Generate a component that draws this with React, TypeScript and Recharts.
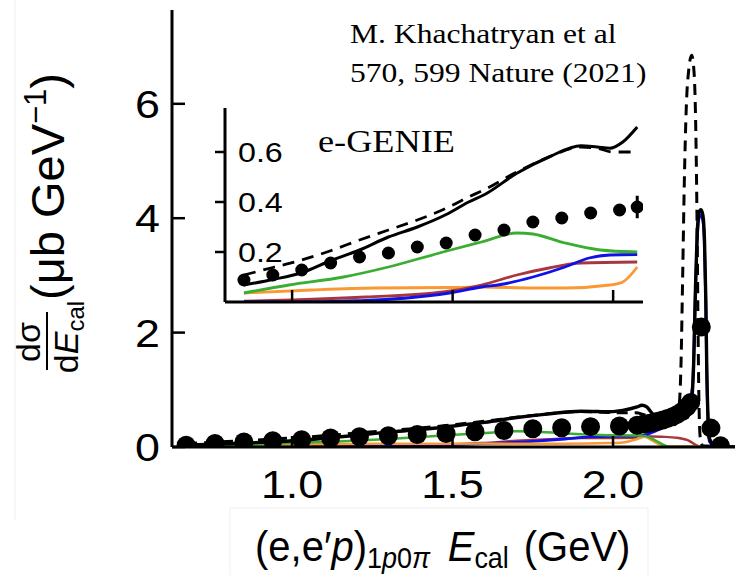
import React from 'react';
import { ComposedChart, Line, Scatter, XAxis, YAxis, ErrorBar } from 'recharts';

// ---------- data ----------
const xTicks = [1.0, 1.5, 2.0];
const yTicks = [0, 2, 4, 6];
const insetYTicks = [0.2, 0.4, 0.6];

// measured data points (e,e'p) 1p0pi
const dataX = [0.67, 0.76, 0.85, 0.94, 1.03, 1.12, 1.21, 1.30, 1.39, 1.48, 1.57, 1.66, 1.75, 1.84, 1.93, 2.02, 2.075, 2.095, 2.11, 2.125, 2.14, 2.155, 2.17, 2.185, 2.2, 2.215, 2.23, 2.242, 2.275, 2.305, 2.335];
const dataY = [0.03, 0.06, 0.088, 0.108, 0.128, 0.156, 0.18, 0.196, 0.22, 0.236, 0.268, 0.288, 0.32, 0.336, 0.356, 0.368, 0.38, 0.40, 0.41, 0.43, 0.45, 0.47, 0.50, 0.53, 0.57, 0.62, 0.70, 0.78, 2.1, 0.33, 0.02];
const dataErr = [0, 0, 0, 0, 0, 0, 0, 0, 0, 0, 0, 0, 0, 0, 0, 0, 0.045, 0, 0, 0, 0, 0, 0, 0, 0, 0, 0, 0, 0, 0, 0];

// GENIE total (solid)
const totX = [0.67, 0.76, 0.85, 0.94, 1.03, 1.12, 1.21, 1.30, 1.39, 1.48, 1.55, 1.60, 1.70, 1.80, 1.90, 1.95, 1.99, 2.03, 2.075, 2.09, 2.105, 2.12, 2.14, 2.17, 2.20, 2.225, 2.245, 2.252, 2.257, 2.262, 2.268, 2.274, 2.28, 2.285, 2.289, 2.292, 2.296, 2.30, 2.32, 2.38];
const totY = [0.035, 0.05, 0.068, 0.09, 0.117, 0.165, 0.208, 0.26, 0.30, 0.35, 0.40, 0.43, 0.515, 0.58, 0.625, 0.62, 0.615, 0.64, 0.70, 0.73, 0.70, 0.6, 0.5, 0.48, 0.55, 0.65, 0.85, 1.6, 2.8, 3.7, 4.1, 4.15, 4.05, 3.6, 2.6, 1.4, 0.5, 0.15, 0.02, 0];

// GENIE alternative (dashed)
const dashX = [0.67, 0.76, 0.85, 0.94, 1.03, 1.12, 1.21, 1.30, 1.39, 1.48, 1.55, 1.60, 1.70, 1.80, 1.90, 1.95, 2.00, 2.07, 2.10, 2.14, 2.18, 2.205, 2.212, 2.217, 2.222, 2.228, 2.236, 2.245, 2.253, 2.258, 2.262, 2.265, 2.268, 2.272, 2.28, 2.38];
const dashY = [0.06, 0.085, 0.108, 0.138, 0.168, 0.205, 0.248, 0.288, 0.328, 0.375, 0.42, 0.45, 0.52, 0.58, 0.62, 0.615, 0.60, 0.60, 0.56, 0.5, 0.52, 0.7, 1.5, 3.0, 4.6, 5.9, 6.6, 6.85, 6.5, 5.5, 3.8, 2.0, 0.7, 0.15, 0.02, 0];

// components
const greenX = [0.67, 0.76, 0.85, 0.99, 1.16, 1.30, 1.47, 1.59, 1.70, 1.75, 1.85, 1.96, 2.075, 2.10, 2.13, 2.16, 2.18, 2.38];
const greenY = [0.012, 0.022, 0.036, 0.068, 0.10, 0.14, 0.20, 0.24, 0.276, 0.272, 0.236, 0.208, 0.20, 0.19, 0.12, 0.03, 0, 0];

const blueX = [0.67, 0.85, 1.0, 1.2, 1.35, 1.49, 1.59, 1.65, 1.75, 1.85, 1.925, 1.99, 2.075, 2.12, 2.16, 2.2, 2.23, 2.248, 2.256, 2.262, 2.268, 2.274, 2.28, 2.285, 2.289, 2.292, 2.296, 2.30, 2.32, 2.38];
const blueY = [0, 0, 0, 0.005, 0.015, 0.036, 0.06, 0.07, 0.10, 0.14, 0.176, 0.188, 0.19, 0.25, 0.35, 0.45, 0.6, 1.1, 2.6, 3.6, 4.0, 4.05, 3.95, 3.5, 2.5, 1.3, 0.45, 0.1, 0, 0];

const brownX = [0.67, 0.85, 1.0, 1.23, 1.47, 1.59, 1.70, 1.80, 1.90, 2.075, 2.10, 2.15, 2.20, 2.24, 2.26, 2.28, 2.38];
const brownY = [0, 0.003, 0.008, 0.02, 0.04, 0.068, 0.108, 0.136, 0.156, 0.16, 0.19, 0.18, 0.16, 0.1, 0.03, 0, 0];

const orangeX = [0.67, 0.76, 0.85, 1.06, 1.26, 1.49, 1.59, 1.75, 1.85, 1.99, 2.03, 2.075, 2.10, 2.12, 2.15, 2.17, 2.38];
const orangeY = [0.02, 0.03, 0.036, 0.048, 0.056, 0.058, 0.06, 0.056, 0.056, 0.068, 0.08, 0.14, 0.18, 0.12, 0.03, 0.01, 0.01];

// ---------- helpers ----------
type P = { x: number; y: number; err: number };
const zip = (xs: number[], ys: number[], es?: number[]): P[] =>
  xs.map((x, i) => ({ x, y: ys[i], err: es ? es[i] : 0 }));

const points = zip(dataX, dataY, dataErr);
const total = zip(totX, totY);
const dashed = zip(dashX, dashY);
const green = zip(greenX, greenY);
const blue = zip(blueX, blueY);
const brown = zip(brownX, brownY);
const orange = zip(orangeX, orangeY);

const INSET_MIN = 0.845;
const INSET_MAX = 2.08;
const inset = (arr: P[]) => arr.filter((p) => p.x >= INSET_MIN && p.x <= INSET_MAX);

const SX = 1.15;
const SANS = '"Liberation Sans", Arial, Helvetica, sans-serif';
const SERIF = '"Liberation Serif", "Times New Roman", serif';

const C_GREEN = '#3aad33';
const C_BLUE = '#1010e8';
const C_BROWN = '#a8373d';
const C_ORANGE = '#fa9832';

const fmt1 = (v: number) => v.toFixed(1);

const MainXTick = (props: any) => {
  const { x, y, payload } = props;
  return (
    <g>
      <line x1={x} y1={y} x2={x} y2={y - 11} stroke="#000" strokeWidth={2.5} />
      <g transform={`translate(${x},${y + 51}) scale(${SX},1)`}>
        <text x={0} y={0} textAnchor="middle" fontFamily={SANS} fontSize={39} fill="#000">
          {fmt1(payload.value)}
        </text>
      </g>
    </g>
  );
};

const MainYTick = (props: any) => {
  const { x, y, payload } = props;
  return (
    <g>
      <line x1={x} y1={y} x2={x + 13} y2={y} stroke="#000" strokeWidth={2.5} />
      <g transform={`translate(${x - 12},${y + 14}) scale(${SX},1)`}>
        <text x={0} y={0} textAnchor="end" fontFamily={SANS} fontSize={39} fill="#000">
          {String(payload.value)}
        </text>
      </g>
    </g>
  );
};

const InsetXTick = (props: any) => {
  const { x, y } = props;
  return <line x1={x} y1={y} x2={x} y2={y - 12} stroke="#000" strokeWidth={2.5} />;
};

const InsetYTick = (props: any) => {
  const { x, y, payload } = props;
  return (
    <g>
      <line x1={x - 10} y1={y} x2={x} y2={y} stroke="#000" strokeWidth={2.5} />
      <g transform={`translate(${x + 13},${y + 10}) scale(${SX},1)`}>
        <text x={0} y={0} textAnchor="start" fontFamily={SANS} fontSize={28} fill="#000">
          {fmt1(payload.value)}
        </text>
      </g>
    </g>
  );
};

const bigDot = (props: any) => <circle cx={props.cx} cy={props.cy} r={9.5} fill="#000" />;
const smallDot = (props: any) => <circle cx={props.cx} cy={props.cy} r={6.5} fill="#000" />;

const lineCommon = {
  type: 'monotone' as const,
  dataKey: 'y',
  dot: false,
  activeDot: false,
  isAnimationActive: false,
  legendType: 'none' as const,
};

export default function App() {
  return (
    <div style={{ position: 'absolute', left: 0, top: 0, width: 735, height: 575, background: '#fff', overflow: 'hidden' }}>
      {/* main chart */}
      <div style={{ position: 'absolute', left: 0, top: 0 }}>
        <ComposedChart width={735} height={575} margin={{ top: 10, right: 0, bottom: 0, left: 0 }}>
          <XAxis
            type="number"
            dataKey="x"
            domain={[0.626, 2.38]}
            ticks={xTicks}
            height={128}
            tickSize={0}
            tickMargin={0}
            tickLine={false}
            axisLine={{ stroke: '#000', strokeWidth: 3 }}
            tick={MainXTick}
            allowDataOverflow
          />
          <YAxis
            type="number"
            dataKey="y"
            domain={[0, 7.64]}
            ticks={yTicks}
            width={172}
            tickSize={0}
            tickMargin={0}
            tickLine={false}
            axisLine={{ stroke: '#000', strokeWidth: 3 }}
            tick={MainYTick}
            allowDataOverflow
          />
          <Line {...lineCommon} data={brown} stroke={C_BROWN} strokeWidth={2.5} />
          <Line {...lineCommon} data={blue} stroke={C_BLUE} strokeWidth={2.8} />
          <Scatter data={points} dataKey="y" fill="#000" shape={bigDot} isAnimationActive={false} />
          <Line {...lineCommon} data={orange} stroke={C_ORANGE} strokeWidth={2.5} />
          <Line {...lineCommon} data={green} stroke={C_GREEN} strokeWidth={2.5} />
          <Line {...lineCommon} data={dashed} stroke="#000" strokeWidth={3} strokeDasharray="11 7" />
          <Line {...lineCommon} data={total} stroke="#000" strokeWidth={3.4} />
        </ComposedChart>
      </div>

      {/* inset chart */}
      <div style={{ position: 'absolute', left: 0, top: 0 }}>
        <ComposedChart width={650} height={310} margin={{ top: 108, right: 7, bottom: 0, left: 0 }}>
          <XAxis
            type="number"
            dataKey="x"
            domain={[0.791, 2.093]}
            ticks={xTicks}
            height={8}
            tickSize={0}
            tickMargin={0}
            tickLine={false}
            axisLine={{ stroke: '#000', strokeWidth: 3 }}
            tick={InsetXTick}
            allowDataOverflow
          />
          <YAxis
            type="number"
            dataKey="y"
            domain={[0, 0.776]}
            ticks={insetYTicks}
            width={225}
            tickSize={0}
            tickMargin={0}
            tickLine={false}
            axisLine={{ stroke: '#000', strokeWidth: 3 }}
            tick={InsetYTick}
            allowDataOverflow
          />
          <Line {...lineCommon} data={inset(orange)} stroke={C_ORANGE} strokeWidth={2.8} />
          <Line {...lineCommon} data={inset(brown)} stroke={C_BROWN} strokeWidth={2.8} />
          <Line {...lineCommon} data={inset(blue)} stroke={C_BLUE} strokeWidth={2.8} />
          <Line {...lineCommon} data={inset(green)} stroke={C_GREEN} strokeWidth={2.8} />
          <Line {...lineCommon} data={inset(dashed)} stroke="#000" strokeWidth={2.8} strokeDasharray="12 8" />
          <Line {...lineCommon} data={inset(total)} stroke="#000" strokeWidth={3} />
          <Scatter data={inset(points)} dataKey="y" fill="#000" shape={smallDot} isAnimationActive={false}>
            <ErrorBar dataKey="err" direction="y" width={0} stroke="#000" strokeWidth={3} />
          </Scatter>
        </ComposedChart>
      </div>

      {/* text overlay */}
      <svg width={735} height={575} style={{ position: 'absolute', left: 0, top: 0, pointerEvents: 'none' }}>
        {/* faint frame artefacts */}
        <line x1={15} y1={0} x2={15} y2={520} stroke="#efefef" strokeWidth={1} />
        <polyline points="230,575 230,508 648,508 648,575" fill="none" stroke="#efefef" strokeWidth={1} />

        {/* y axis title */}
        <g transform="translate(40,342) rotate(-90)">
          <text x={0} y={0} textAnchor="middle" fontFamily={SANS} fontSize={34} fill="#000">dσ</text>
        </g>
        <line x1={47} y1={312} x2={47} y2={370} stroke="#000" strokeWidth={2} />
        <g transform="translate(78,337) rotate(-90)">
          <text x={0} y={0} textAnchor="middle" fontFamily={SANS} fontSize={34} fill="#000">
            d<tspan fontStyle="italic">E</tspan>
            <tspan fontSize={24} dy={6}>cal</tspan>
          </text>
        </g>
        <g transform="translate(64,300) rotate(-90)">
          <text x={0} y={0} textAnchor="start" fontFamily={SANS} fontSize={47} fill="#000">
            (μb GeV<tspan fontSize={31} dy={-18}>−1</tspan>
            <tspan dy={18}>)</tspan>
          </text>
        </g>

        {/* x axis title */}
        <g transform="translate(255,561) scale(0.93,1)">
          <text x={0} y={0} fontFamily={SANS} fontSize={43} fill="#000">
            (e,e′<tspan fontStyle="italic">p</tspan>)
            <tspan fontSize={29} dy={7}>1</tspan>
            <tspan fontSize={29} fontStyle="italic">p</tspan>
            <tspan fontSize={29}>0</tspan>
            <tspan fontSize={29} fontStyle="italic">π</tspan>
            <tspan fontStyle="italic" dy={-7} dx={19}>E</tspan>
            <tspan fontSize={29} dy={7}>cal</tspan>
            <tspan dy={-7} dx={16}>(GeV)</tspan>
          </text>
        </g>

        {/* annotations */}
        <g transform="translate(350,43) scale(1.17,1)">
          <text x={0} y={0} fontFamily={SERIF} fontSize={27} fill="#000">M. Khachatryan et al</text>
        </g>
        <g transform="translate(350,82) scale(1.17,1)">
          <text x={0} y={0} fontFamily={SERIF} fontSize={27} fill="#000">570, 599 Nature (2021)</text>
        </g>
        <g transform="translate(318,152) scale(1.17,1)">
          <text x={0} y={0} fontFamily={SERIF} fontSize={31} fill="#000">e-GENIE</text>
        </g>
      </svg>
    </div>
  );
}
